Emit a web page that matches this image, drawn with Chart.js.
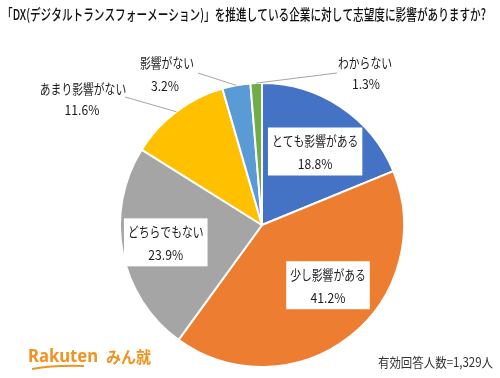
<!DOCTYPE html>
<html><head><meta charset="utf-8">
<script src="https://cdn.jsdelivr.net/npm/chart.js@4/dist/chart.umd.min.js"></script>
<style>html,body{margin:0;padding:0;background:#fff}#wrap{width:500px;height:378px;position:relative}</style>
</head><body><div id="wrap"><canvas id="c" width="500" height="378"></canvas></div>
<script>
const titleText = '「DX(デジタルトランスフォーメーション)」を推進している企業に対して志望度に影響がありますか?';
const categories = ['とても影響がある', '少し影響がある', 'どちらでもない', 'あまり影響がない', '影響がない', 'わからない'];
const percentages = [18.8, 41.2, 23.9, 11.6, 3.2, 1.3];
const sampleNote = '有効回答人数=1,329人';
const logoWord = 'Rakuten';
const logoSub = 'みん就';

const sliceColors = ['#4472C4', '#ED7D31', '#A5A5A5', '#FFC000', '#5B9BD5', '#70AD47'];
const FONT = '"Noto Sans CJK JP", "Noto Sans", sans-serif';
const SQ = 0.8;

function drawText(ctx, text, x, y, size, color, opts) {
  opts = opts || {};
  ctx.save();
  ctx.font = (opts.weight || 'normal') + ' ' + size + 'px ' + (opts.font || FONT);
  ctx.fillStyle = color;
  ctx.textAlign = opts.align || 'center';
  ctx.textBaseline = 'middle';
  ctx.translate(x, y);
  let sx = opts.sq || SQ;
  if (opts.fitWidth) sx = opts.fitWidth / ctx.measureText(text).width;
  ctx.scale(sx, 1);
  ctx.fillText(text, 0, 0);
  ctx.restore();
}
function textW(ctx, text, size) {
  ctx.save(); ctx.font = 'normal ' + size + 'px ' + FONT;
  const w = ctx.measureText(text).width * SQ; ctx.restore(); return w;
}

// label placement: inner labels use polar offset from arc; outer labels use text anchor + leader elbow
const inner = {0: {r: 0.633, da: 2.4}, 1: {r: 0.634, da: -9}, 2: {r: 0.69, da: 0.2}};
const outer = {
  3: {tx: 83, ty: 89, px: 82, py: 110, lx: 125, ly: 97},
  4: {tx: 167, ty: 63, px: 165, py: 86, lx: 198, ly: 73},
  5: {tx: 365, ty: 63, px: 366, py: 84, lx: 337, ly: 73}
};

const labelPlugin = {
  id: 'labels',
  afterDatasetsDraw(chart) {
    const ctx = chart.ctx;
    const meta = chart.getDatasetMeta(0);
    const S = 13.5;
    meta.data.forEach((arc, i) => {
      const mid = (arc.startAngle + arc.endAngle) / 2;
      const R = arc.outerRadius;
      const name = categories[i];
      const pct = percentages[i].toFixed(1) + '%';
      if (inner[i]) {
        const a = mid + inner[i].da * Math.PI / 180;
        const cx = arc.x + Math.cos(a) * R * inner[i].r;
        const cy = arc.y + Math.sin(a) * R * inner[i].r;
        const w = Math.max(textW(ctx, name, S), textW(ctx, pct, S)) + 8;
        ctx.fillStyle = '#fff';
        ctx.fillRect(cx - w / 2, cy - 25, w, 48);
        drawText(ctx, name, cx, cy - 11.5, S, '#1a1a1a');
        drawText(ctx, pct, cx, cy + 11.5, S, '#1a1a1a', {sq: 0.9});
      } else if (outer[i]) {
        const o = outer[i];
        const ex = arc.x + Math.cos(mid) * R;
        const ey = arc.y + Math.sin(mid) * R;
        ctx.save();
        ctx.strokeStyle = '#a6a6a6'; ctx.lineWidth = 1;
        ctx.beginPath(); ctx.moveTo(o.lx, o.ly); ctx.lineTo(ex, ey); ctx.stroke();
        ctx.restore();
        drawText(ctx, name, o.tx, o.ty, S, '#1a1a1a');
        drawText(ctx, pct, o.px, o.py, S, '#1a1a1a', {sq: 0.9});
      }
    });
  },
  afterDraw(chart) {
    const ctx = chart.ctx;
    drawText(ctx, titleText, 244, 14, 15, '#111', {fitWidth: 484, weight: '500'});
    drawText(ctx, sampleNote, 493, 362, 13, '#333', {align: 'right', sq: 0.88});
    drawText(ctx, logoWord, 28, 357, 17, '#EF9321', {align: 'left', weight: 'bold', font: '"Noto Sans", sans-serif', sq: 0.98});
    drawText(ctx, logoSub, 106, 357, 15.5, '#EF9321', {align: 'left', weight: 'bold', sq: 0.97});
    ctx.save();
    ctx.strokeStyle = '#EF9321'; ctx.lineWidth = 2;
    ctx.beginPath(); ctx.moveTo(32, 369); ctx.quadraticCurveTo(55, 365, 84, 366); ctx.stroke();
    ctx.restore();
  }
};

new Chart(document.getElementById('c'), {
  type: 'pie',
  data: {
    labels: categories,
    datasets: [{
      data: percentages,
      backgroundColor: sliceColors,
      borderColor: '#ffffff',
      borderWidth: 2
    }]
  },
  options: {
    responsive: false,
    animation: false,
    layout: {padding: {top: 82, bottom: 10, left: 119, right: 95}},
    plugins: {legend: {display: false}, tooltip: {enabled: false}, title: {display: false}}
  },
  plugins: [labelPlugin]
});
</script>
</body></html>
